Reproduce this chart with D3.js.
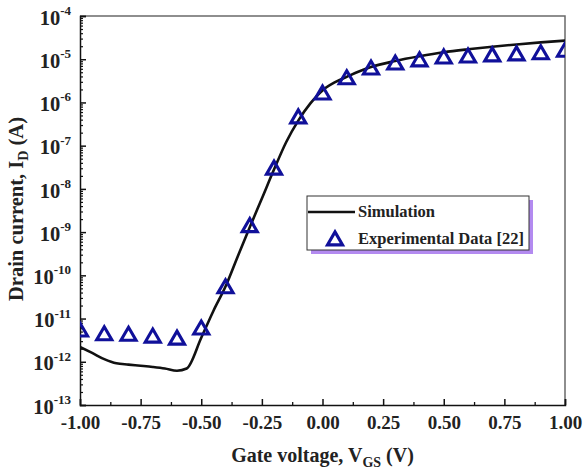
<!DOCTYPE html>
<html>
<head>
<meta charset="utf-8">
<script src="https://cdn.jsdelivr.net/npm/d3@7"></script>
<style>
  body { margin: 0; background: #fff; }
  text { font-family: "Liberation Serif", "Times New Roman", serif; font-weight: bold; }
</style>
</head>
<body>
<div id="chart"></div>
<script>
// simulation curve (V, A)
const simV = [-1.00, -0.95, -0.90, -0.85, -0.80, -0.75, -0.70, -0.65, -0.60, -0.56, -0.50, -0.45, -0.40, -0.35, -0.30, -0.25, -0.20, -0.15, -0.10, -0.05, 0.00, 0.05, 0.10, 0.15, 0.20, 0.30, 0.40, 0.50, 0.60, 0.70, 0.80, 0.90, 1.00];
const simI = [2.2e-12, 1.6e-12, 1.15e-12, 9.2e-13, 8.6e-13, 8.1e-13, 7.6e-13, 7.0e-13, 6.2e-13, 7.0e-13, 3.6e-12, 1.5e-11, 5.5e-11, 2.7e-10, 1.3e-9, 6.0e-9, 2.8e-8, 1.2e-7, 3.8e-7, 9.5e-7, 1.9e-6, 2.9e-6, 3.9e-6, 5.2e-6, 6.6e-6, 9.1e-6, 1.17e-5, 1.45e-5, 1.7e-5, 1.95e-5, 2.2e-5, 2.45e-5, 2.7e-5];

// experimental data [22]
const expV = [-1.0, -0.9, -0.8, -0.7, -0.6, -0.5, -0.4, -0.3, -0.2, -0.1, 0.0, 0.1, 0.2, 0.3, 0.4, 0.5, 0.6, 0.7, 0.8, 0.9, 1.0];
const expI = [5.4e-12, 4.4e-12, 4.3e-12, 3.9e-12, 3.5e-12, 6.0e-12, 5.4e-11, 1.4e-9, 3.0e-8, 4.6e-7, 1.64e-6, 3.7e-6, 6.2e-6, 8.1e-6, 9.6e-6, 1.12e-5, 1.18e-5, 1.25e-5, 1.32e-5, 1.4e-5, 1.6e-5];

const xTicks = [-1.00, -0.75, -0.50, -0.25, 0.00, 0.25, 0.50, 0.75, 1.00];
const yExps = [-13, -12, -11, -10, -9, -8, -7, -6, -5, -4];

const W = 584, H = 472;
const margin = { left: 80, top: 16, right: 19, bottom: 67 };
const width = W - margin.left - margin.right;
const height = H - margin.top - margin.bottom;

const svg = d3.select("#chart").append("svg")
  .attr("width", W).attr("height", H);

const g = svg.append("g")
  .attr("transform", `translate(${margin.left},${margin.top})`);

const x = d3.scaleLinear().domain([-1, 1]).range([0, width]);
const y = d3.scaleLog().domain([1e-13, 1e-4]).range([height, 0]);

g.append("clipPath").attr("id", "clip")
  .append("rect").attr("width", width).attr("height", height);

// frame top/right
g.append("path")
  .attr("d", `M0,0H${width}V${height}`)
  .attr("fill", "none").attr("stroke", "#6a6a6a").attr("stroke-width", 1.5);

// minor ticks
const xMinor = xTicks.slice(0, -1).map(v => v + 0.125);
g.append("g")
  .attr("transform", `translate(0,${height})`)
  .call(d3.axisBottom(x).tickValues(xMinor).tickSize(-3).tickFormat(""))
  .call(a => a.select(".domain").remove())
  .selectAll("line").attr("stroke", "#111").attr("stroke-width", 1.3);

const yMinor = [];
yExps.slice(0, -1).forEach(e => { for (let k = 2; k <= 9; k++) yMinor.push(k * Math.pow(10, e)); });
g.append("g")
  .call(d3.axisLeft(y).tickValues(yMinor).tickSize(-3).tickFormat(""))
  .call(a => a.select(".domain").remove())
  .selectAll("line").attr("stroke", "#111").attr("stroke-width", 1.2);

// x axis
const xAxis = g.append("g")
  .attr("transform", `translate(0,${height})`)
  .call(d3.axisBottom(x).tickValues(xTicks).tickSize(-6).tickPadding(11).tickFormat(d => d.toFixed(2)));
xAxis.select(".domain").attr("stroke", "#111").attr("stroke-width", 1.5);
xAxis.selectAll("line").attr("stroke", "#111").attr("stroke-width", 1.5);
xAxis.selectAll("text")
  .attr("font-size", 19).attr("fill", "#222")
  .style("font-family", "'Liberation Serif', serif");

// y axis
const yAxis = g.append("g")
  .call(d3.axisLeft(y).tickValues(yExps.map(e => Math.pow(10, e))).tickSize(-6).tickPadding(9).tickFormat(""));
yAxis.select(".domain").attr("stroke", "#111").attr("stroke-width", 1.5);
yAxis.selectAll("line").attr("stroke", "#111").attr("stroke-width", 1.5);
yAxis.selectAll(".tick").each(function (d) {
  const t = d3.select(this).select("text")
    .attr("font-size", 20.5).attr("fill", "#222").attr("dy", "0.4em")
    .style("font-family", "'Liberation Serif', serif");
  t.text("10");
  t.append("tspan").attr("font-size", 13).attr("dy", "-0.75em")
    .text(Math.round(Math.log10(d)));
});

// simulation line
const line = d3.line()
  .x(d => x(d[0])).y(d => y(d[1]))
  .curve(d3.curveMonotoneX);
g.append("path")
  .datum(simV.map((v, i) => [v, simI[i]]))
  .attr("clip-path", "url(#clip)")
  .attr("d", line)
  .attr("fill", "none").attr("stroke", "#111").attr("stroke-width", 2.6);

// triangle marker
const tri = (s) => `M0,${-s * 0.55}L${s * 0.58},${s * 0.45}L${-s * 0.58},${s * 0.45}Z`;
const markerColor = "#10109a";
g.append("g").attr("clip-path", "url(#clip)")
  .selectAll("path")
  .data(expV.map((v, i) => [v, expI[i]]))
  .join("path")
  .attr("transform", d => `translate(${x(d[0])},${y(d[1])})`)
  .attr("d", tri(13))
  .attr("fill", "none").attr("stroke", markerColor).attr("stroke-width", 3.1)
  .attr("stroke-linejoin", "miter");

// legend
const lg = svg.append("g").attr("transform", "translate(307,196)");
lg.append("rect").attr("x", 4).attr("y", 4).attr("width", 222).attr("height", 54).attr("fill", "#b38af0");
lg.append("rect").attr("width", 222).attr("height", 54).attr("fill", "#fff").attr("stroke", "#333").attr("stroke-width", 1);
lg.append("line").attr("x1", 1).attr("x2", 48).attr("y1", 16).attr("y2", 16)
  .attr("stroke", "#111").attr("stroke-width", 2.6);
lg.append("path").attr("transform", "translate(28,43)").attr("d", tri(13))
  .attr("fill", "none").attr("stroke", markerColor).attr("stroke-width", 3.1);
lg.append("text").attr("x", 51).attr("y", 21).attr("font-size", 16.5).attr("fill", "#222").text("Simulation");
lg.append("text").attr("x", 51).attr("y", 48).attr("font-size", 16.5).attr("fill", "#222").text("Experimental Data [22]");

// axis titles
const xt = svg.append("text")
  .attr("x", margin.left + width / 2).attr("y", 462)
  .attr("text-anchor", "middle").attr("font-size", 20).attr("fill", "#222");
xt.append("tspan").text("Gate voltage, V");
xt.append("tspan").attr("font-size", 14).attr("dy", 5).text("GS");
xt.append("tspan").attr("dy", -5).text(" (V)");

const yt = svg.append("text")
  .attr("transform", `translate(23,${margin.top + 193}) rotate(-90)`)
  .attr("text-anchor", "middle").attr("font-size", 20.5).attr("fill", "#222");
yt.append("tspan").text("Drain current, I");
yt.append("tspan").attr("font-size", 14).attr("dy", 5).text("D");
yt.append("tspan").attr("dy", -5).text(" (A)");
</script>
</body>
</html>
